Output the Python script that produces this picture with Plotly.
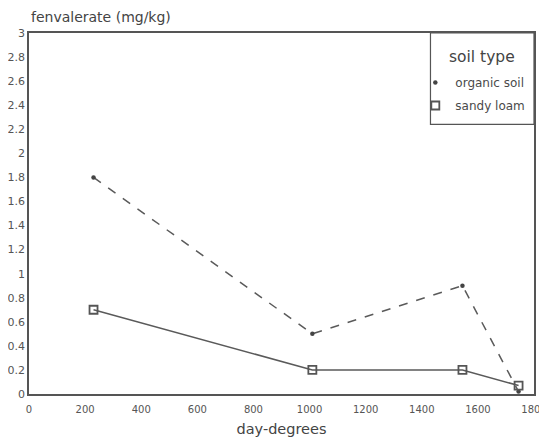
import plotly.graph_objects as go

day_degrees = [230, 1010, 1545, 1745]
organic_soil = [1.8, 0.5, 0.9, 0.02]
sandy_loam = [0.7, 0.2, 0.2, 0.07]

y_ticks = [0, 0.2, 0.4, 0.6, 0.8, 1, 1.2, 1.4, 1.6, 1.8, 2, 2.2, 2.4, 2.6, 2.8, 3]
y_labels = ["0", "0.2", "0.4", "0.6", "0.8", "1", "1.2", "1.4", "1.6", "1.8",
            "2", "2.2", "2.4", "2.6", "2.8", "3"]
x_ticks = [0, 200, 400, 600, 800, 1000, 1200, 1400, 1600, 1800]

ink = "#4a4a4a"
font = "DejaVu Sans, Verdana, sans-serif"
line_gray = "#5a5a5a"

fig = go.Figure()
# lines
fig.add_trace(go.Scatter(
    x=day_degrees, y=organic_soil, name="organic soil", mode="lines",
    line=dict(color=line_gray, width=1.5, dash="dash"),
    legendgroup="organic", showlegend=False,
))
fig.add_trace(go.Scatter(
    x=day_degrees, y=sandy_loam, name="sandy loam", mode="lines",
    line=dict(color=line_gray, width=1.5),
    legendgroup="sandy", showlegend=False,
))
# markers (shown in legend)
fig.add_trace(go.Scatter(
    x=day_degrees, y=organic_soil, name="organic soil", mode="markers",
    marker=dict(symbol="circle", size=4.5, color="#444444"),
    legendgroup="organic",
))
fig.add_trace(go.Scatter(
    x=day_degrees, y=sandy_loam, name="sandy loam", mode="markers",
    marker=dict(symbol="square-open", size=8, color="#555555", line=dict(width=1.8)),
    legendgroup="sandy",
))

fig.add_shape(type="rect", xref="paper", yref="paper",
              x0=0.795, x1=1.0, y0=0.747, y1=1.0,
              line=dict(color="#555555", width=1.2), fillcolor="white", layer="below")

fig.update_layout(
    width=539, height=430,
    margin=dict(l=21, r=13, t=25, b=44, autoexpand=False),
    paper_bgcolor="white", plot_bgcolor="white",
    font=dict(family=font, color=ink, size=11),
    showlegend=True,
    legend=dict(
        x=0.765, y=0.903, xanchor="left", yanchor="top",
        bgcolor="rgba(0,0,0,0)", borderwidth=0,
        font=dict(size=12, color=ink),
        itemwidth=30, tracegroupgap=4,
    ),
    xaxis=dict(
        range=[0, 1800], tickvals=x_ticks, showgrid=False, zeroline=False,
        showline=True, linecolor="#555555", linewidth=1.6, mirror=True,
        ticks="", tickfont=dict(size=10, color="#555555"), automargin=False,
        ticklabelstandoff=5, ticklabeloverflow="allow",
        title=dict(text="day-degrees", font=dict(size=14.5, color="#444444"), standoff=10),
    ),
    yaxis=dict(
        range=[0, 3], tickvals=y_ticks, ticktext=y_labels, showgrid=False, zeroline=False,
        showline=True, linecolor="#555555", linewidth=1.6, mirror=True, automargin=False,
        ticks="", tickfont=dict(size=11, color="#555555"),
    ),
    annotations=[
        dict(
            text="fenvalerate (mg/kg)", xref="paper", yref="paper", x=0.0, y=1.0,
            xanchor="left", yanchor="bottom", yshift=6, showarrow=False,
            font=dict(size=14, color="#444444"),
        ),
        dict(
            text="soil type", xref="paper", yref="paper", x=0.8975, y=0.933,
            xanchor="center", yanchor="middle", showarrow=False,
            font=dict(size=15.5, color="#444444"),
        ),
    ],
)

fig.write_html("out.html")
